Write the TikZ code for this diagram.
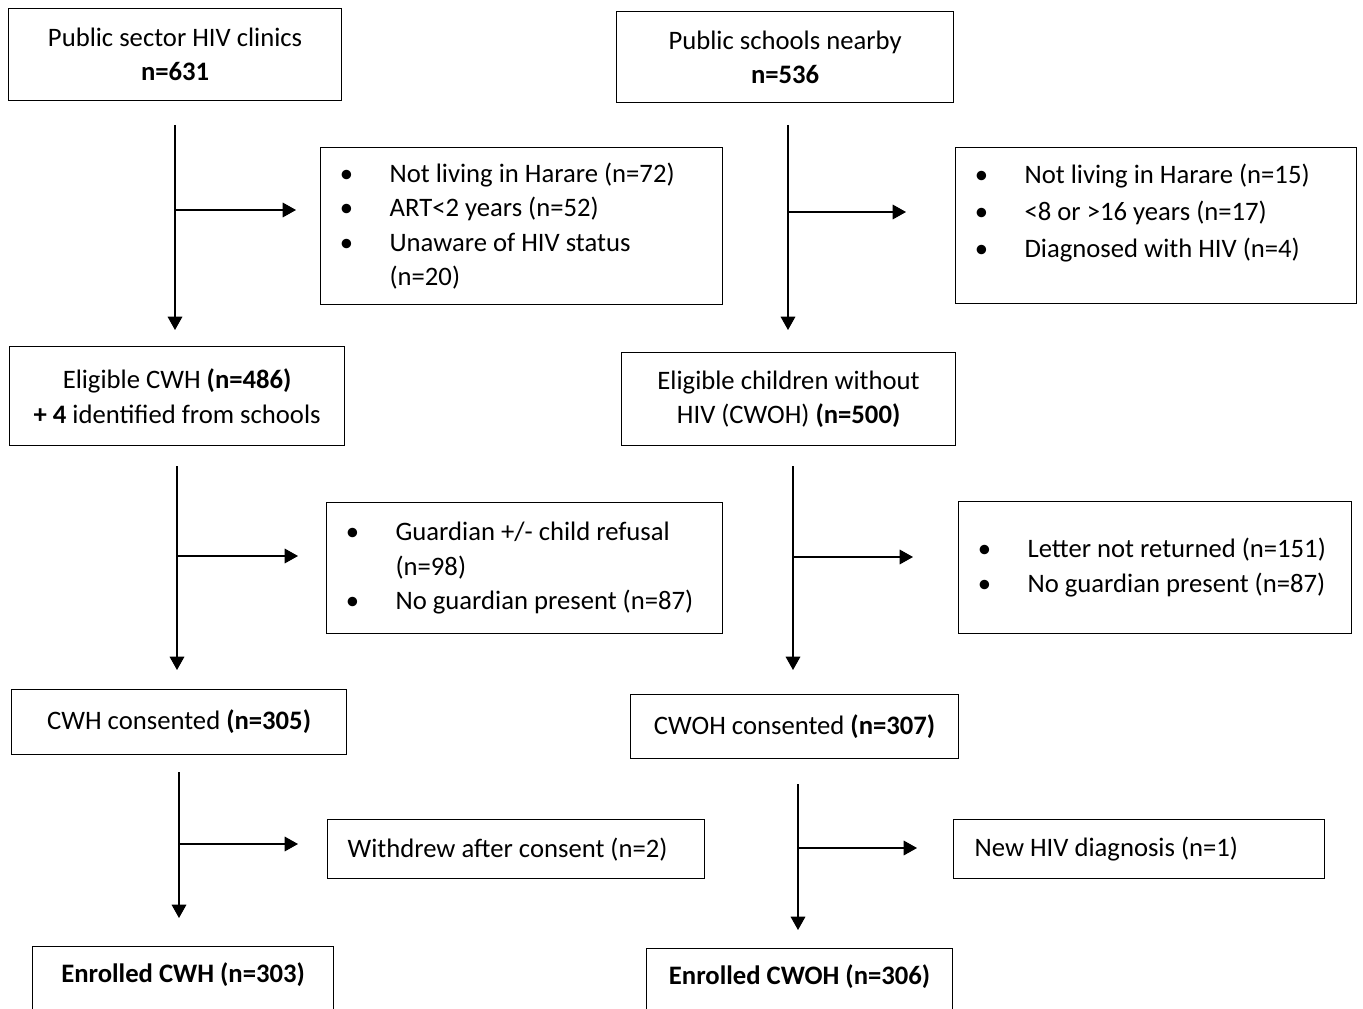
\documentclass[tikz,border=0pt]{standalone}
\usepackage{fontspec}
\setmainfont{Carlito}
\usepackage{tikz}
\usetikzlibrary{arrows.meta, positioning}

\newcommand{\bul}{\makebox[47.75pt][l]{\makebox[31pt]{\textbullet}}}

\begin{document}
\begin{tikzpicture}[
    x=0.75pt, y=-0.75pt,
    box/.style={rectangle, draw, line width=0.9pt, anchor=north west, inner sep=0pt,
                align=center, font=\fontsize{20}{25.75}\selectfont},
    excl/.style={box, align=flush left, inner xsep=4pt},
    arr/.style={-{Triangle[length=10pt,width=11pt]}, line width=0.9pt}
]
    \useasboundingbox (0,0) rectangle (1363,1009);
    \clip (0,0) rectangle (1363,1009);

    % children with HIV
    \node[box, minimum width=249.75pt, minimum height=69pt] (clinics) at (8,8)
        {Public sector HIV clinics\\\textbf{n=631}};
    \node[excl, text width=293.5pt, minimum height=117.75pt] (exclA) at (320,147)
        {\bul Not living in Harare (n=72)\\\bul ART<2 years (n=52)\\\bul Unaware of HIV status\\\hspace*{47.75pt}(n=20)};
    \node[box, minimum width=251.25pt, minimum height=74.25pt] (eligcwh) at (9,346)
        {Eligible CWH \textbf{(n=486)}\\\textbf{+ 4} identified from schools};
    \node[excl, text width=289pt, minimum height=98.25pt] (exclB) at (326,502)
        {\bul Guardian +/- child refusal\\\hspace*{47.75pt}(n=98)\\\bul No guardian present (n=87)};
    \node[box, minimum width=251.25pt, minimum height=48.75pt] (conscwh) at (11,689)
        {CWH consented \textbf{(n=305)}};
    \node[excl, inner xsep=15pt, text width=252.75pt, minimum height=44.25pt] (exclC) at (327,819)
        {Withdrew after consent (n=2)};
    \node[box, minimum width=225.75pt, text height=27pt, text depth=60pt] (enrcwh) at (32,946)
        {\textbf{Enrolled CWH (n=303)}};

    % children without HIV
    \node[box, minimum width=252.75pt, minimum height=68.25pt] (schools) at (616,11)
        {Public schools nearby\\\textbf{n=536}};
    \node[excl, text width=292.75pt, text height=27pt, text depth=90pt] (exclD) at (955,147)
        {\bul Not living in Harare (n=15)\\[2pt]\bul <8 or >16 years (n=17)\\[2pt]\bul Diagnosed with HIV (n=4)};
    \node[box, minimum width=250.5pt, minimum height=69.75pt] (eligcwoh) at (621,352)
        {Eligible children without\\HIV (CWOH) \textbf{(n=500)}};
    \node[excl, text width=286.75pt, minimum height=99pt] (exclE) at (958,501)
        {\bul Letter not returned (n=151)\\\bul No guardian present (n=87)};
    \node[box, minimum width=246pt, minimum height=48pt] (conscwoh) at (630,694)
        {CWOH consented \textbf{(n=307)}};
    \node[excl, inner xsep=15.75pt, text width=246.75pt, minimum height=44.25pt] (exclF) at (953,819)
        {New HIV diagnosis (n=1)};
    \node[box, minimum width=229.5pt, text height=27pt, text depth=60pt] (enrcwoh) at (646,948)
        {\textbf{Enrolled CWOH (n=306)}};

    % arrow ends
    \coordinate (vA1) at (175,125);  \coordinate (vA2) at (175,330);  \coordinate (hA) at (175,210);
    \coordinate (vB1) at (177,466);  \coordinate (vB2) at (177,670);  \coordinate (hB) at (177,556);
    \coordinate (vC1) at (179,772);  \coordinate (vC2) at (179,918);  \coordinate (hC) at (179,844);
    \coordinate (vD1) at (788,125);  \coordinate (vD2) at (788,330);  \coordinate (hD) at (788,212);
    \coordinate (vE1) at (793,466);  \coordinate (vE2) at (793,670);  \coordinate (hE) at (793,557);
    \coordinate (vF1) at (798,784);  \coordinate (vF2) at (798,930);  \coordinate (hF) at (798,848);

    \draw[arr] (vA1) -- (vA2);
    \draw[arr, shorten >=18pt] (hA) -- (hA -| exclA.west);
    \draw[arr] (vB1) -- (vB2);
    \draw[arr, shorten >=21pt] (hB) -- (hB -| exclB.west);
    \draw[arr] (vC1) -- (vC2);
    \draw[arr, shorten >=21.75pt] (hC) -- (hC -| exclC.west);
    \draw[arr] (vD1) -- (vD2);
    \draw[arr, shorten >=36.75pt] (hD) -- (hD -| exclD.west);
    \draw[arr] (vE1) -- (vE2);
    \draw[arr, shorten >=33.75pt] (hE) -- (hE -| exclE.west);
    \draw[arr] (vF1) -- (vF2);
    \draw[arr, shorten >=27pt] (hF) -- (hF -| exclF.west);
\end{tikzpicture}
\end{document}
